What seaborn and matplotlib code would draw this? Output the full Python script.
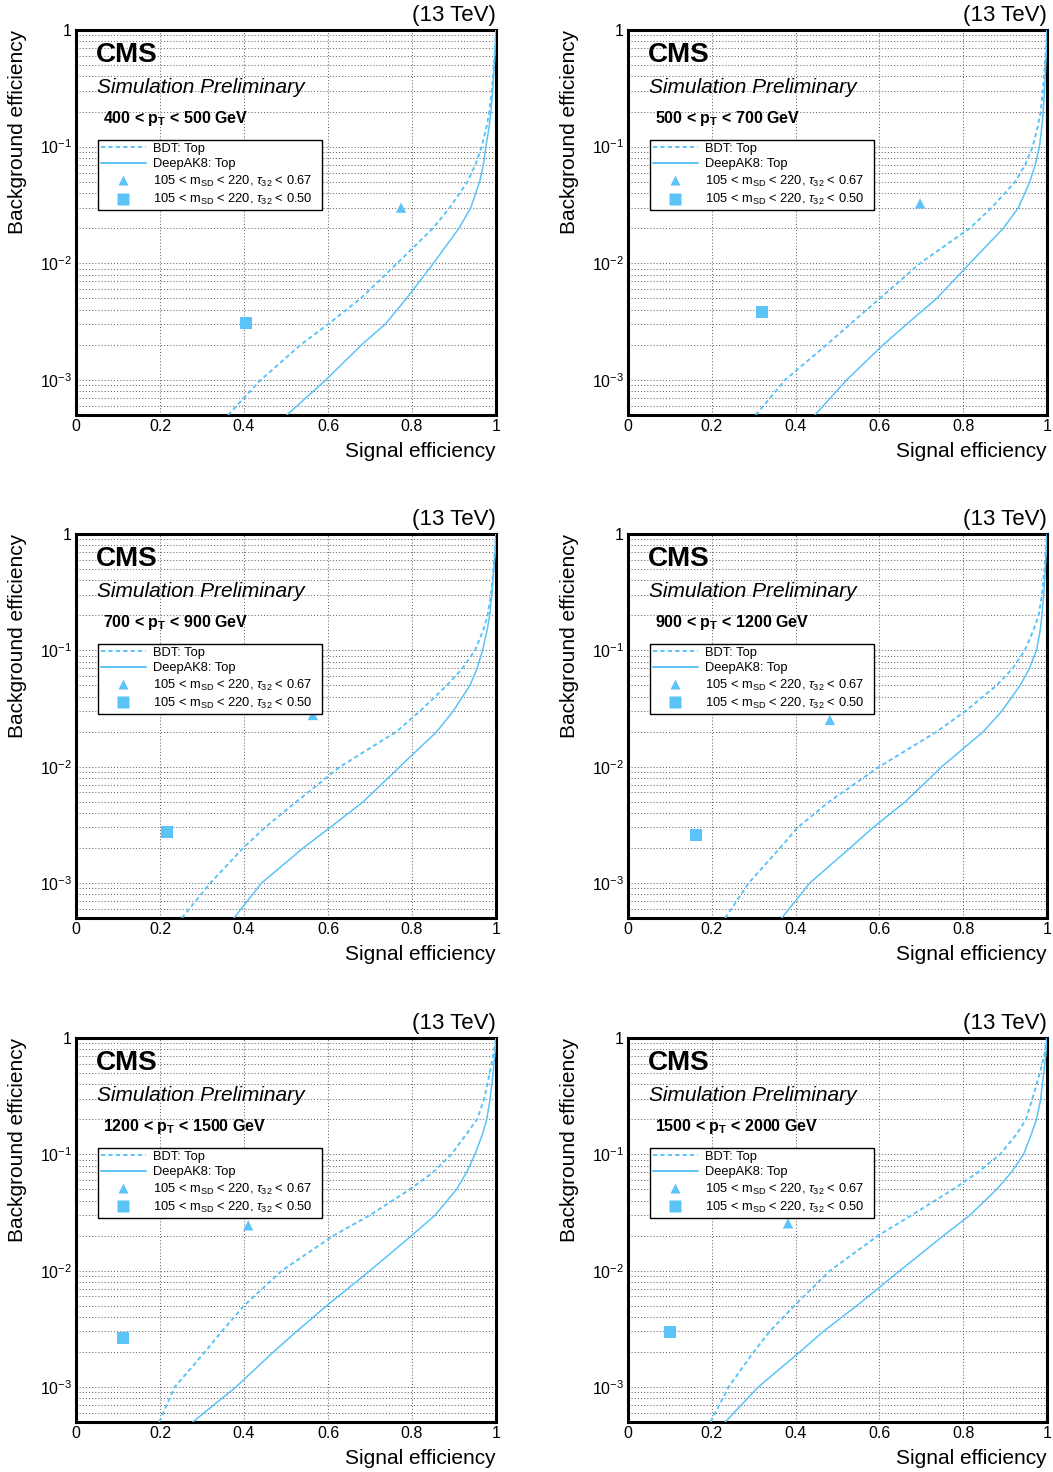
import numpy as np
import pandas as pd
import seaborn as sns
import matplotlib
matplotlib.use("Agg")
import matplotlib.pyplot as plt
from matplotlib.lines import Line2D
from matplotlib.ticker import FixedLocator, MultipleLocator, FuncFormatter, NullFormatter

# ---------------------------------------------------------------- data
PT_BINS = ["400 < p$_\\mathbf{T}$ < 500 GeV",
           "500 < p$_\\mathbf{T}$ < 700 GeV",
           "700 < p$_\\mathbf{T}$ < 900 GeV",
           "900 < p$_\\mathbf{T}$ < 1200 GeV",
           "1200 < p$_\\mathbf{T}$ < 1500 GeV",
           "1500 < p$_\\mathbf{T}$ < 2000 GeV"]

# background-efficiency working points at which the signal efficiency is given
BKG_EFF = [5e-4, 1e-3, 2e-3, 3e-3, 5e-3, 1e-2, 2e-2, 3e-2, 5e-2, 7e-2,
           0.1, 0.15, 0.2, 0.3, 0.5, 0.7, 1.0]

BDT_SIG = [
    [0.362, 0.440, 0.535, 0.600, 0.678, 0.765, 0.850, 0.890, 0.932, 0.951, 0.966, 0.978, 0.984, 0.990, 0.995, 0.998, 1.0],
    [0.305, 0.375, 0.474, 0.530, 0.601, 0.697, 0.816, 0.868, 0.924, 0.948, 0.966, 0.978, 0.985, 0.990, 0.995, 0.998, 1.0],
    [0.252, 0.320, 0.398, 0.450, 0.525, 0.629, 0.763, 0.819, 0.883, 0.920, 0.950, 0.970, 0.980, 0.988, 0.994, 0.997, 1.0],
    [0.232, 0.288, 0.363, 0.405, 0.480, 0.600, 0.737, 0.805, 0.880, 0.918, 0.947, 0.968, 0.980, 0.988, 0.994, 0.997, 1.0],
    [0.198, 0.235, 0.307, 0.347, 0.400, 0.490, 0.613, 0.700, 0.795, 0.850, 0.894, 0.930, 0.955, 0.972, 0.985, 0.993, 1.0],
    [0.197, 0.240, 0.300, 0.338, 0.397, 0.482, 0.597, 0.677, 0.776, 0.835, 0.888, 0.928, 0.950, 0.965, 0.983, 0.993, 1.0],
]
DAK8_SIG = [
    [0.502, 0.595, 0.680, 0.736, 0.787, 0.851, 0.912, 0.940, 0.961, 0.970, 0.976, 0.984, 0.988, 0.992, 0.996, 0.998, 1.0],
    [0.446, 0.522, 0.609, 0.665, 0.737, 0.816, 0.896, 0.932, 0.959, 0.972, 0.982, 0.988, 0.991, 0.994, 0.997, 0.999, 1.0],
    [0.376, 0.442, 0.541, 0.605, 0.684, 0.771, 0.859, 0.898, 0.938, 0.955, 0.968, 0.979, 0.985, 0.990, 0.995, 0.998, 1.0],
    [0.367, 0.434, 0.530, 0.585, 0.662, 0.749, 0.848, 0.892, 0.936, 0.958, 0.975, 0.984, 0.988, 0.992, 0.996, 0.998, 1.0],
    [0.278, 0.381, 0.470, 0.525, 0.597, 0.700, 0.799, 0.855, 0.906, 0.930, 0.950, 0.968, 0.978, 0.986, 0.993, 0.997, 1.0],
    [0.232, 0.311, 0.410, 0.466, 0.546, 0.649, 0.753, 0.816, 0.880, 0.915, 0.944, 0.963, 0.975, 0.985, 0.992, 0.997, 1.0],
]

# cut-based working points (tau32 < 0.67 and tau32 < 0.50)
TAU067_SIG = [0.774, 0.697, 0.564, 0.482, 0.410, 0.382]
TAU067_BKG = [0.0300, 0.0326, 0.0278, 0.0252, 0.0245, 0.0255]
TAU050_SIG = [0.405, 0.320, 0.217, 0.162, 0.112, 0.100]
TAU050_BKG = [3.07e-3, 3.81e-3, 2.73e-3, 2.57e-3, 2.64e-3, 2.97e-3]

LEGEND_LABELS = ["BDT: Top", "DeepAK8: Top",
                 "105 < m$_\\mathrm{SD}$ < 220, $\\tau_{32}$ < 0.67",
                 "105 < m$_\\mathrm{SD}$ < 220, $\\tau_{32}$ < 0.50"]

# ---------------------------------------------------------------- style
sns.set_theme(style="white")
plt.rcParams["font.family"] = ["Liberation Sans", "DejaVu Sans"]
plt.rcParams["mathtext.fontset"] = "custom"
plt.rcParams["mathtext.rm"] = "Liberation Sans"
plt.rcParams["mathtext.it"] = "Liberation Sans:italic"
plt.rcParams["mathtext.bf"] = "Liberation Sans:bold"
plt.rcParams["mathtext.sf"] = "Liberation Sans"
for key in ("text.color", "axes.labelcolor", "xtick.color", "ytick.color",
            "xtick.labelcolor", "ytick.labelcolor"):
    plt.rcParams[key] = "black"

BLUE = "#5cc3f8"
W, H = 1053, 1472
fig = plt.figure(figsize=(W / 100, H / 100), dpi=100)

# panel boxes in pixels: (left, right) and (top, bottom)
cols = [(76, 496), (628, 1047)]
rows = [(30, 415), (534, 918), (1038, 1422)]


def ylabel_fmt(v, pos):
    if abs(v - 1.0) < 1e-9:
        return "1"
    e = int(round(np.log10(v)))
    return "$10^{%d}$" % e


for i in range(6):
    r, c = divmod(i, 2)
    x0, x1 = cols[c]
    y0, y1 = rows[r]
    ax = fig.add_axes([x0 / W, 1 - y1 / H, (x1 - x0) / W, (y1 - y0) / H])

    bdt = pd.DataFrame({"sig": BDT_SIG[i], "bkg": BKG_EFF})
    dak = pd.DataFrame({"sig": DAK8_SIG[i], "bkg": BKG_EFF})
    sns.lineplot(data=bdt, x="sig", y="bkg", ax=ax, color=BLUE, lw=1.4,
                 linestyle=(0, (2.2, 1.6)), sort=False, estimator=None, zorder=3)
    sns.lineplot(data=dak, x="sig", y="bkg", ax=ax, color=BLUE, lw=1.1,
                 sort=False, estimator=None, zorder=3)
    sns.scatterplot(x=[TAU067_SIG[i]], y=[TAU067_BKG[i]], ax=ax, marker="^",
                    s=55, color=BLUE, edgecolor="none", zorder=4)
    sns.scatterplot(x=[TAU050_SIG[i]], y=[TAU050_BKG[i]], ax=ax, marker="s",
                    s=70, color=BLUE, edgecolor="none", zorder=4)

    ax.set_yscale("log")
    ax.set_xlim(0, 1)
    ax.set_ylim(5e-4, 1)
    ax.set_xlabel("")
    ax.set_ylabel("")

    ax.xaxis.set_major_locator(FixedLocator([0, 0.2, 0.4, 0.6, 0.8, 1.0]))
    ax.xaxis.set_minor_locator(MultipleLocator(0.05))
    ax.xaxis.set_major_formatter(FuncFormatter(lambda v, p: "%g" % round(v, 2)))
    majors = [1e-3, 1e-2, 1e-1, 1.0]
    minors = [m * 10.0 ** e for e in (-4, -3, -2, -1) for m in range(2, 10)]
    minors = [v for v in minors if 5e-4 <= v < 1]
    ax.yaxis.set_major_locator(FixedLocator(majors))
    ax.yaxis.set_minor_locator(FixedLocator(minors))
    ax.yaxis.set_major_formatter(FuncFormatter(ylabel_fmt))
    ax.yaxis.set_minor_formatter(NullFormatter())

    ax.tick_params(axis="both", which="both", direction="in", color="black",
                   labelcolor="black", top=False, right=False, labelsize=11.5, pad=3)
    ax.tick_params(axis="x", which="major", length=7.2, width=1.5)
    ax.tick_params(axis="x", which="minor", length=3.6, width=1.3)
    ax.tick_params(axis="y", which="major", length=10, width=1.5)
    ax.tick_params(axis="y", which="minor", length=5, width=1.3)

    ax.grid(False)
    ax.grid(True, which="major", axis="x", color="#666666", lw=0.75,
            linestyle=(0, (1, 2)))
    ax.grid(True, which="both", axis="y", color="#666666", lw=0.75,
            linestyle=(0, (1, 2)))
    ax.set_axisbelow(True)
    for s in ax.spines.values():
        s.set_color("black")
        s.set_linewidth(2.2)

    # header texts
    ax.text(1.0, 1.024, "(13 TeV)", transform=ax.transAxes, ha="right",
            va="baseline", fontsize=16, color="black")
    ax.text(0.048, 0.917, "CMS", transform=ax.transAxes, ha="left",
            va="baseline", fontsize=20, fontweight="bold", color="black")
    ax.text(0.049, 0.836, "Simulation Preliminary", transform=ax.transAxes,
            ha="left", va="baseline", fontsize=15, style="italic", color="black")
    ax.text(0.065, 0.758, PT_BINS[i], transform=ax.transAxes, ha="left",
            va="baseline", fontsize=11.5, fontweight="bold", color="black")

    ax.text(1.0, -0.109, "Signal efficiency", transform=ax.transAxes,
            ha="right", va="baseline", fontsize=15, color="black")
    ax.text(-0.139, 1.0, "Background efficiency", transform=ax.transAxes,
            ha="center", va="top", rotation=90, fontsize=15, color="black")

    handles = [
        Line2D([], [], color=BLUE, lw=1.4, linestyle=(0, (2.2, 1.6))),
        Line2D([], [], color=BLUE, lw=1.4),
        Line2D([], [], color=BLUE, marker="^", linestyle="none", markersize=7,
               markeredgecolor="none"),
        Line2D([], [], color=BLUE, marker="s", linestyle="none", markersize=8,
               markeredgecolor="none"),
    ]
    leg = ax.legend(handles, LEGEND_LABELS, loc="upper left",
                    bbox_to_anchor=(0.052, 0.714, 0.534, 0.0), mode="expand",
                    borderaxespad=0, fontsize=9.3, frameon=True, fancybox=False,
                    framealpha=1, edgecolor="black", handlelength=3.5,
                    handletextpad=0.55, labelspacing=0.26, borderpad=0.22)
    leg.get_frame().set_linewidth(1.0)
    for t in leg.get_texts():
        t.set_color("black")
    leg.set_zorder(5)

fig.savefig("out.png", dpi=100)
